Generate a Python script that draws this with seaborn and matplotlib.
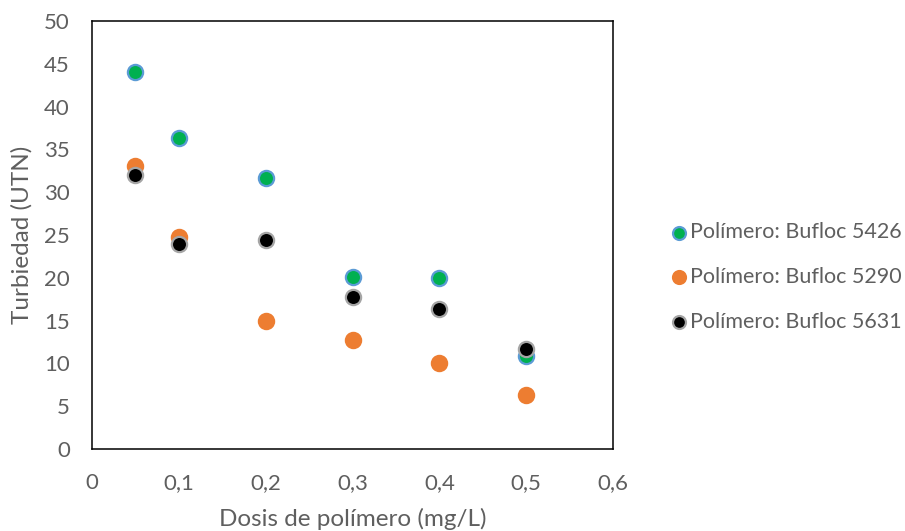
import matplotlib
matplotlib.use("Agg")
import matplotlib.pyplot as plt
import seaborn as sns
import pandas as pd

dosis = [0.05, 0.1, 0.2, 0.3, 0.4, 0.5]
bufloc_5426 = [44.0, 36.3, 31.7, 20.1, 20.0, 10.9]
bufloc_5290 = [33.1, 24.8, 15.0, 12.7, 10.1, 6.3]
bufloc_5631 = [32.0, 23.9, 24.4, 17.7, 16.4, 11.7]

series = [
    ("Polímero: Bufloc 5426", bufloc_5426, "#00B050", "#5B9BD5"),
    ("Polímero: Bufloc 5290", bufloc_5290, "#ED7D31", "#ED7D31"),
    ("Polímero: Bufloc 5631", bufloc_5631, "#000000", "#A5A5A5"),
]

rows = []
for name, vals, _, _ in series:
    for d, v in zip(dosis, vals):
        rows.append({"Dosis": d, "Turbiedad": v, "Serie": name})
df = pd.DataFrame(rows)

sns.set_theme(style="white")
plt.rcParams["font.family"] = ["Lato", "DejaVu Sans"]

W, H = 905, 531
fig = plt.figure(figsize=(W / 100, H / 100), dpi=100)
ax = fig.add_axes([92 / W, 1 - 449 / H, (613 - 92) / W, (449 - 21) / H])

for name, vals, face, edge in series:
    sub = df[df["Serie"] == name]
    sns.scatterplot(data=sub, x="Dosis", y="Turbiedad", ax=ax, s=120,
                    color=face, edgecolor=edge, linewidth=1.6, label=name,
                    zorder=3)

ax.set_xlim(0, 0.6)
ax.set_ylim(0, 50)
ax.set_xticks([0, 0.1, 0.2, 0.3, 0.4, 0.5, 0.6])
ax.set_xticklabels(["0", "0,1", "0,2", "0,3", "0,4", "0,5", "0,6"])
ax.set_yticks(range(0, 51, 5))
ax.tick_params(axis="both", colors="#5f5f5f", labelsize=16, length=0)
ax.tick_params(axis="x", pad=17)
ax.tick_params(axis="y", pad=16)
for sp in ax.spines.values():
    sp.set_color("black")
    sp.set_linewidth(1.1)

ax.set_xlabel("Dosis de polímero (mg/L)", color="#5f5f5f", fontsize=17.5, labelpad=11)
ax.set_ylabel("Turbiedad (UTN)", color="#5f5f5f", fontsize=17.5, labelpad=8)

leg = ax.legend(loc="center left", bbox_to_anchor=(668 / W, 1 - 277 / H),
                bbox_transform=fig.transFigure, frameon=False,
                fontsize=15.5, handletextpad=0.0, handlelength=1.0,
                labelspacing=1.15, markerscale=0.85, borderaxespad=0,
                borderpad=0)
for t in leg.get_texts():
    t.set_color("#5f5f5f")

fig.savefig("out.png", dpi=100)
